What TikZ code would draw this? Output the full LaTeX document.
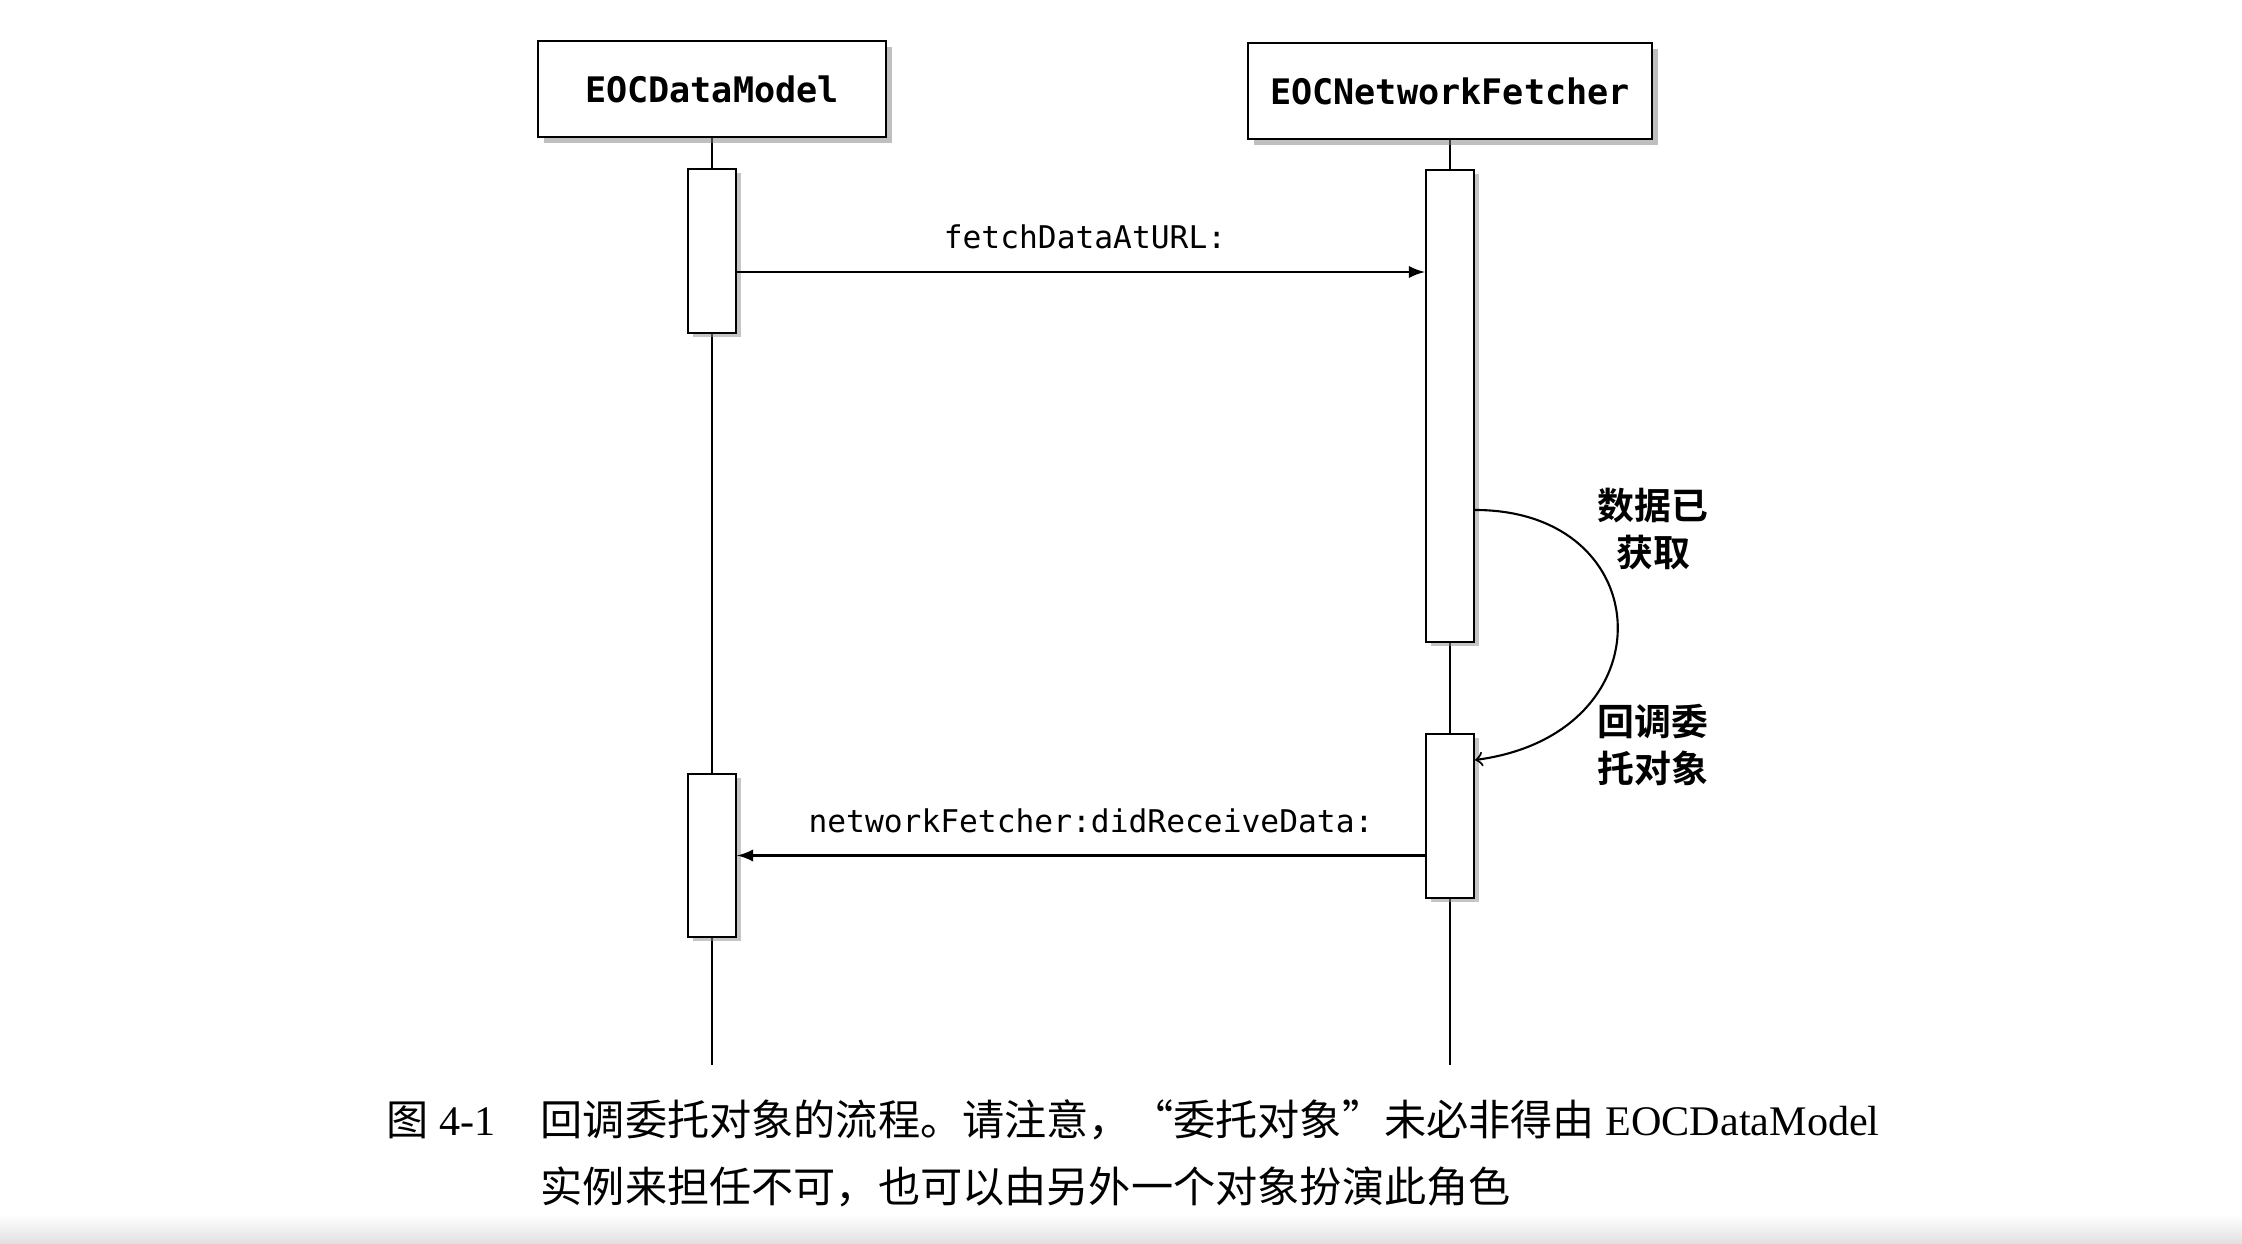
\documentclass[tikz,border=0pt]{standalone}
\usepackage{fontspec}
\setmainfont{Liberation Serif}
\setmonofont{DejaVu Sans Mono}
\newfontfamily\cjk[BoldFont={Noto Sans CJK SC Bold}]{Noto Sans CJK SC}
\usepackage{tikz}
\usetikzlibrary{shapes,arrows,shadows}
\tikzstyle{header} = [draw, thick, fill=white, minimum height=9.6mm, font=\ttfamily\bfseries\fontsize{10}{12}\selectfont, drop shadow={shadow xshift=0.6mm, shadow yshift=-0.6mm, fill=black!50}]
\tikzstyle{activation} = [draw, semithick, fill=white, minimum width=4.8mm, inner sep=0pt, drop shadow={shadow xshift=0.5mm, shadow yshift=-0.4mm, fill=black!45}]
\tikzstyle{msg} = [-latex, semithick]
\tikzstyle{msglabel} = [font=\ttfamily\fontsize{8.9}{10}\selectfont]
\tikzstyle{note} = [align=center, font=\cjk\bfseries\fontsize{10.5}{13.5}\selectfont]
\tikzstyle{caption} = [anchor=west, inner sep=0pt, font=\fontsize{12}{14}\selectfont]

\begin{document}
\begin{tikzpicture}
	\useasboundingbox (0,0) rectangle (22.42,12.44);
	\shade[top color=white, bottom color=black!12] (0,0) rectangle (22.42,0.3);
	% lifelines
	\coordinate (modelTop) at (7.12,11.55);
	\coordinate (modelEnd) at (7.12,1.79);
	\coordinate (fetcherTop) at (14.50,11.53);
	\coordinate (fetcherEnd) at (14.50,1.79);
	\draw[semithick] (modelTop) -- (modelEnd);
	\draw[semithick] (fetcherTop) -- (fetcherEnd);
	% objects
	\node[header, minimum width=34.8mm] (hdrModel) at (modelTop) {EOCDataModel};
	\node[header, minimum width=40.4mm] (hdrFetcher) at (fetcherTop) {EOCNetworkFetcher};
	\node[activation, minimum height=16.4mm] (actModelA) at (7.12,9.93) {};
	\node[activation, minimum height=47.2mm] (actFetcherA) at (14.50,8.38) {};
	\node[activation, minimum height=16.4mm] (actFetcherB) at (14.50,4.28) {};
	\node[activation, minimum height=16.3mm] (actModelB) at (7.12,3.885) {};
	% messages
	\draw[msg] ([yshift=-2.1mm]actModelA.east) -- node[msglabel, above=1mm, xshift=0.4mm] {fetchDataAtURL:} ([yshift=-2.1mm]actModelA.east -| actFetcherA.west);
	\draw[msg] (actFetcherB.west |- actModelB.east) -- node[msglabel, above=1mm, xshift=1mm] {networkFetcher:didReceiveData:} (actModelB.east);
	\draw[->,semithick] ([yshift=-10.4mm]actFetcherA.east) .. controls (16.6,7.34) and (16.7,5.1) .. ([yshift=5.6mm]actFetcherB.east);
	\node[note] (noteFetched) at (16.53,7.15) {数据已\\获取};
	\node[note] (noteCallback) at (16.53,4.99) {回调委\\托对象};
	% caption
	\node[caption] (capLabel) at (3.86,1.24) {{\cjk 图} 4-1};
	\node[caption] (capLineA) at (5.40,1.24) {{\cjk 回调委托对象的流程。请注意，“委托对象”未必非得由} EOCDataModel};
	\node[caption] (capLineB) at (5.40,0.57) {\cjk 实例来担任不可，也可以由另外一个对象扮演此角色};
\end{tikzpicture}
\end{document}
